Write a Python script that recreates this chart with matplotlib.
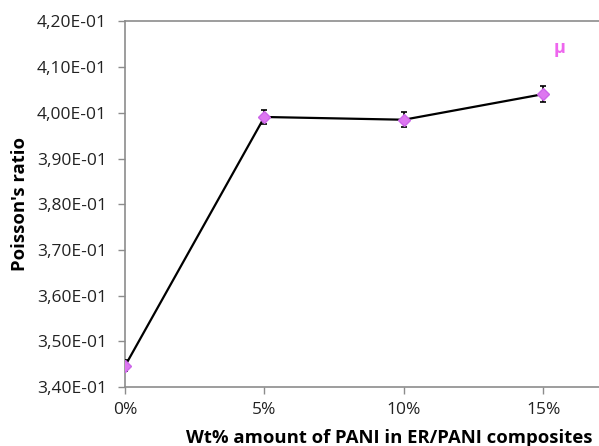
import matplotlib
matplotlib.use("Agg")
import matplotlib.pyplot as plt
from matplotlib.ticker import FuncFormatter

# Poisson's ratio vs PANI content
pani = [0, 5, 10, 15]
poisson = [0.3446, 0.3991, 0.3985, 0.4041]
err = [0.0012, 0.0016, 0.0016, 0.0017]
xticks = [0, 5, 10, 15]
xlabels = ["0%", "5%", "10%", "15%"]

plt.rcParams['font.family'] = ['Open Sans', 'DejaVu Sans']

fig = plt.figure(figsize=(5.99, 4.46), dpi=100)
ax = fig.add_axes([0.2087, 0.1323, 0.7913, 0.8195])

ax.errorbar(pani, poisson, yerr=err, color="black", lw=1.6, ecolor="black",
            elinewidth=1.2, capsize=2, capthick=1.2, marker="D", markersize=6.5,
            markerfacecolor="#dd77f0", markeredgecolor="#cc66e8", zorder=3)

ax.text(15.6, 0.4142, "μ", color="#ee66ee", fontsize=13, fontweight="bold",
        ha="center", va="center")

ax.set_xlim(0, 17)
ax.set_ylim(0.34, 0.42)
ax.set_yticks([0.34 + 0.01 * i for i in range(9)])
ax.yaxis.set_major_formatter(FuncFormatter(lambda v, p: ("%.2E" % v).replace(".", ",")))
ax.set_xticks(xticks)
ax.set_xticklabels(xlabels)

for s in ["left", "bottom", "top"]:
    ax.spines[s].set_color("#8c8c8c")
    ax.spines[s].set_linewidth(1.2)
ax.spines["right"].set_visible(False)

ax.tick_params(axis="both", colors="#8c8c8c", labelcolor="#222222", labelsize=12.5,
               length=5, width=1)
ax.tick_params(axis="y", pad=8)
ax.tick_params(axis="x", pad=6)

ax.set_ylabel("Poisson's ratio", fontsize=13.3, fontweight="bold", labelpad=6)
ax.set_xlabel("Wt% amount of PANI in ER/PANI composites", fontsize=13.3,
              fontweight="bold", labelpad=8, x=0.557)

fig.savefig("out.png", dpi=100)
